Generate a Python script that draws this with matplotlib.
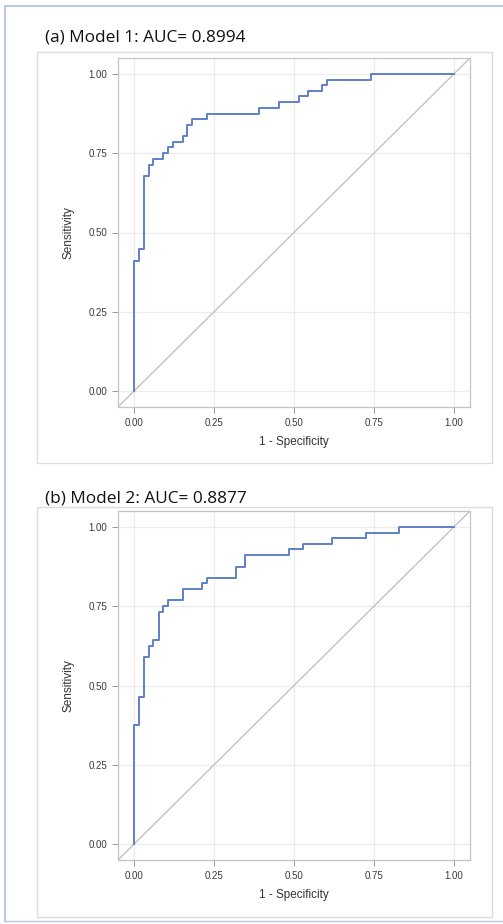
import matplotlib
matplotlib.use("Agg")

import numpy as np
import matplotlib.pyplot as plt
from matplotlib.patches import Rectangle
from matplotlib.lines import Line2D

# ROC corner points (1 - specificity, sensitivity)
fpr_m1 = [0.0, 0.0, 0.017, 0.031, 0.047, 0.060, 0.092, 0.107, 0.121, 0.152, 0.167,
          0.181, 0.227, 0.392, 0.454, 0.515, 0.545, 0.588, 0.604, 0.740, 1.0]
tpr_m1 = [0.0, 0.411, 0.447, 0.678, 0.714, 0.733, 0.750, 0.768, 0.786, 0.804, 0.839,
          0.857, 0.875, 0.893, 0.911, 0.929, 0.946, 0.964, 0.982, 1.0, 1.0]

fpr_m2 = [0.0, 0.0, 0.017, 0.031, 0.047, 0.060, 0.077, 0.092, 0.107, 0.152, 0.211,
          0.227, 0.318, 0.348, 0.484, 0.529, 0.618, 0.724, 0.829, 1.0]
tpr_m2 = [0.0, 0.376, 0.465, 0.591, 0.625, 0.643, 0.732, 0.750, 0.768, 0.804, 0.822,
          0.839, 0.875, 0.911, 0.929, 0.946, 0.964, 0.982, 1.0, 1.0]

titles = ["(a) Model 1: AUC= 0.8994", "(b) Model 2: AUC= 0.8877"]
ticks = [0.0, 0.25, 0.50, 0.75, 1.00]
tick_labels = ["0.00", "0.25", "0.50", "0.75", "1.00"]

W, H = 503, 924
fig = plt.figure(figsize=(W / 100, H / 100), dpi=100)
fig.patch.set_facecolor("white")

def fx(px):
    return px / W

def fy(py):
    return 1 - py / H

# outer light-blue frame (left, top, bottom)
border = "#b7cbe6"
fig.add_artist(Line2D([fx(5), fx(5)], [fy(6), fy(921)], color=border, lw=1.5))
fig.add_artist(Line2D([fx(5), fx(503)], [fy(6), fy(6)], color=border, lw=1.5))
fig.add_artist(Line2D([fx(5), fx(503)], [fy(921), fy(921)], color=border, lw=1.0))

# panel layouts: box top/bottom, axes top/bottom, title y, data
panels = [
    (52, 463, 58, 407, 37, fpr_m1, tpr_m1),
    (507, 917, 511, 860, 499, fpr_m2, tpr_m2),
]

for i, (bt, bb, at, ab, ty, fpr, tpr) in enumerate(panels):
    fig.add_artist(Rectangle((fx(37), fy(bb)), fx(492) - fx(37), fy(bt) - fy(bb),
                             transform=fig.transFigure, fill=False,
                             edgecolor="#dcdcdc", lw=1.0))
    fig.text(fx(45), fy(ty), titles[i], fontsize=12.4, family="Open Sans",
             color="#111111", va="center", ha="left")

    ax = fig.add_axes([fx(118), fy(ab), fx(470) - fx(118), fy(at) - fy(ab)])
    ax.set_xlim(-0.05, 1.05)
    ax.set_ylim(-0.05, 1.05)
    ax.set_xticks(ticks)
    ax.set_yticks(ticks)
    ax.set_xticklabels(tick_labels)
    ax.set_yticklabels(tick_labels)
    ax.grid(True, color="#ececec", lw=0.9)
    ax.set_axisbelow(True)
    for s in ax.spines.values():
        s.set_color("#c4c4c4")
        s.set_linewidth(0.9)
    ax.tick_params(length=4, width=0.7, color="#999999", labelsize=7,
                   labelcolor="#3a3a3a", pad=4)
    for lab in ax.get_xticklabels() + ax.get_yticklabels():
        lab.set_family("Liberation Sans")
    ax.plot([-0.05, 1.05], [-0.05, 1.05], color="#c2c2c2", lw=1.0)
    ax.plot(fpr, tpr, drawstyle="steps-post", color="#5f80c8", lw=1.4)
    ax.set_xlabel("1 - Specificity", fontsize=8.5, family="Liberation Sans",
                  color="#333333", labelpad=6)
    ax.set_ylabel("Sensitivity", fontsize=8.5, family="Liberation Sans",
                  color="#333333", labelpad=10)

fig.savefig("out.png", dpi=100)
